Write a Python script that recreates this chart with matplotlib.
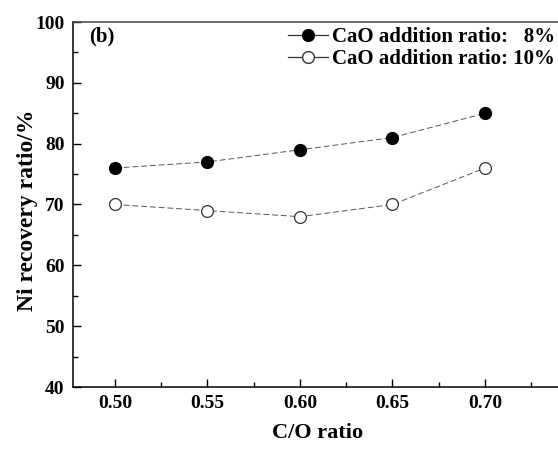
import numpy as np
from matplotlib import pyplot as plt
from matplotlib.lines import Line2D
from matplotlib.ticker import MultipleLocator

# data
co_ratio = [0.50, 0.55, 0.60, 0.65, 0.70]
recovery_8 = [76, 77, 79, 81, 85]
recovery_10 = [70, 69, 68, 70, 76]
label_8 = 'CaO addition ratio:   8%'
label_10 = 'CaO addition ratio: 10%'

plt.rcParams['font.family'] = ['Liberation Serif', 'DejaVu Serif']
plt.rcParams['font.weight'] = 'bold'

W, H = 558, 449
fig = plt.figure(figsize=(W / 100, H / 100), dpi=100)

# axes box in pixels: left spine at 73, top 22, bottom 387; right spine is cut off
x_lo, x_hi = 0.4773, 0.7573
px_per_unit = 1850
ax_w = (x_hi - x_lo) * px_per_unit
ax = fig.add_axes([73 / W, (H - 387) / H, ax_w / W, 365 / H])

line_kw = dict(c='#555555', ls=(0, (6, 3)), lw=0.7, marker='o', ms=8.5)
ax.plot(co_ratio, recovery_8, mfc='black', mec='black', **line_kw)
ax.plot(co_ratio, recovery_10, mfc='white', mec='#333333', mew=0.9, **line_kw)

ax.set_xlim(x_lo, x_hi)
ax.set_ylim(40, 100)
ax.set_xticks(co_ratio)
ax.set_xticklabels([f'{v:.2f}' for v in co_ratio])
ax.xaxis.set_minor_locator(MultipleLocator(0.025))
ax.yaxis.set_major_locator(MultipleLocator(10))
ax.yaxis.set_minor_locator(MultipleLocator(5))

ax.tick_params(which='both', direction='in', top=False, right=False,
               labelsize=14, width=1)
ax.tick_params(which='major', length=6, pad=6)
ax.tick_params(which='minor', length=3.5)
for lbl in ax.get_xticklabels() + ax.get_yticklabels():
    lbl.set_fontweight('bold')

for side in ['left', 'bottom', 'top', 'right']:
    ax.spines[side].set_linewidth(1.1)
ax.spines['top'].set_color('#444444')

ax.set_xlabel('C/O ratio', fontsize=16, fontweight='bold')
ax.xaxis.set_label_coords((318 - 73) / ax_w, -(433 - 387) / 365, transform=ax.transAxes)
ax.set_ylabel('Ni recovery ratio/%', fontsize=17, fontweight='bold')
ax.yaxis.set_label_coords(-(73 - 27) / ax_w, (387 - 210) / 365, transform=ax.transAxes)
ax.xaxis.label.set_va('center')
ax.yaxis.label.set_va('center')

fig.text(89 / W, 1 - 36 / H, '(b)', fontsize=15, fontweight='bold',
         va='center', ha='left')

handles = [
    Line2D([], [], c='#333333', lw=0.9, marker='o', ms=8.5, mfc='black', mec='black'),
    Line2D([], [], c='#333333', lw=0.9, marker='o', ms=8.5, mfc='white', mec='#333333'),
]
fig.legend(handles, [label_8, label_10], loc='upper right',
           bbox_to_anchor=(555 / W, 1 - 27 / H),
           bbox_transform=fig.transFigure, frameon=False,
           handlelength=1.9, handletextpad=0.2,
           labelspacing=0.1, borderaxespad=0, borderpad=0,
           prop={'weight': 'bold', 'size': 15})

fig.savefig('out.png', dpi=100)
